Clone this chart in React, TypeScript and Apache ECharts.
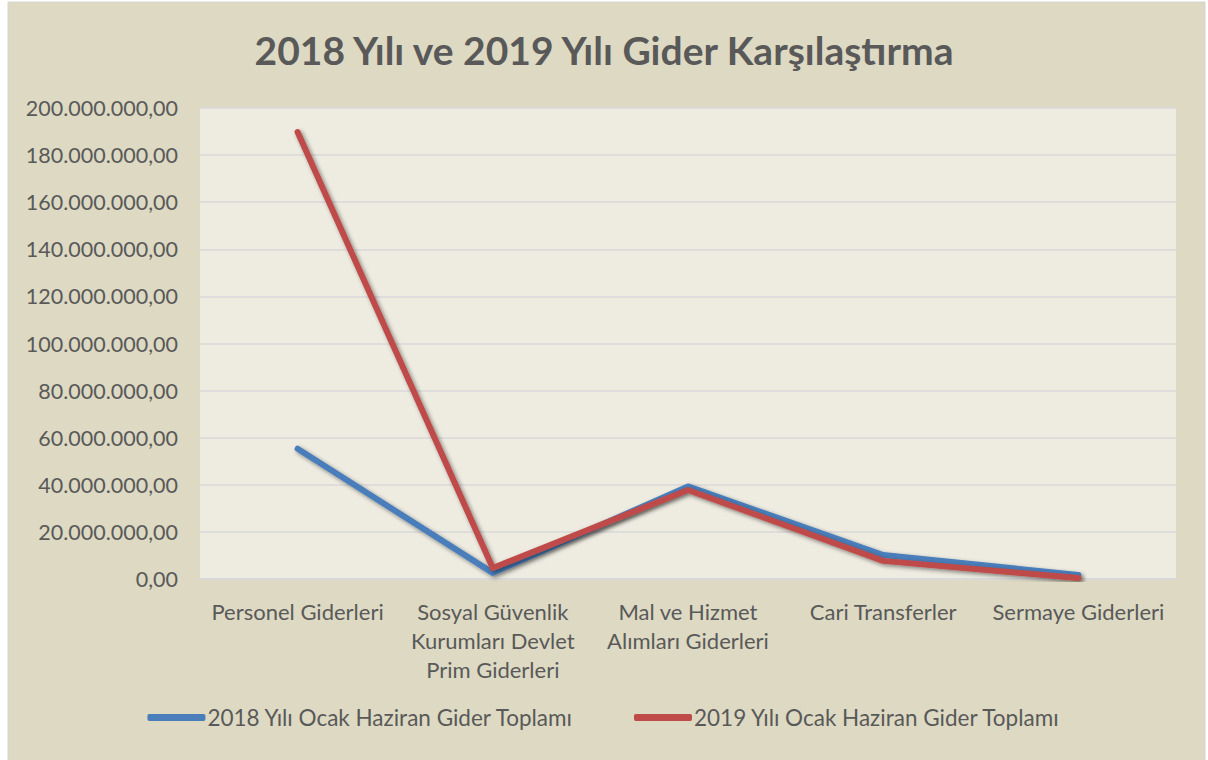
import React, { useEffect, useRef } from "react";
import * as echarts from "echarts";

const categories = [
  "Personel Giderleri",
  "Sosyal Güvenlik\nKurumları Devlet\nPrim Giderleri",
  "Mal ve Hizmet\nAlımları Giderleri",
  "Cari Transferler",
  "Sermaye Giderleri",
];
const seriesNames = [
  "2018 Yılı Ocak Haziran Gider Toplamı",
  "2019 Yılı Ocak Haziran Gider Toplamı",
];
const values2018 = [55300000, 2600000, 39300000, 10200000, 1700000];
const values2019 = [189800000, 4700000, 37800000, 7700000, 400000];
const title = "2018 Yılı ve 2019 Yılı Gider Karşılaştırma";

const FONT = "Lato, 'Open Sans', sans-serif";
const GREY = "#595959";

function trFormat(v: number): string {
  const s = Math.round(v).toString().replace(/\B(?=(\d{3})+(?!\d))/g, ".");
  return s + ",00";
}

export default function App() {
  const ref = useRef<HTMLDivElement>(null);
  useEffect(() => {
    if (!ref.current) return;
    const chart = echarts.init(ref.current, undefined, { renderer: "svg" });
    const shadow = {
      shadowColor: "rgba(0,0,0,0.45)",
      shadowBlur: 4,
      shadowOffsetX: 2,
      shadowOffsetY: 2,
    };
    chart.setOption({
      animation: false,
      backgroundColor: "#ffffff",
      graphic: [
        {
          type: "rect",
          z: -10,
          silent: true,
          shape: { x: 8, y: 2, width: 1197, height: 760 },
          style: { fill: "#DDD9C3", stroke: "#D4D4D4", lineWidth: 1 },
        },
      ],
      title: {
        text: title,
        left: "center",
        top: 25,
        textStyle: {
          fontFamily: FONT,
          fontSize: 39,
          fontWeight: "bold",
          color: GREY,
        },
      },
      grid: {
        left: 200,
        right: 32,
        top: 108,
        bottom: 181,
        show: true,
        backgroundColor: "#EEECE1",
        borderWidth: 0,
      },
      legend: {
        bottom: 26,
        left: "center",
        itemWidth: 58,
        itemHeight: 7,
        itemGap: 60,
        icon: "roundRect",
        textStyle: { fontFamily: FONT, fontSize: 22.5, color: GREY, padding: [0, 0, 0, -3] },
        data: seriesNames,
      },
      xAxis: {
        type: "category",
        data: categories,
        boundaryGap: true,
        axisLine: { show: true, lineStyle: { color: "#D9D9D9", width: 2 } },
        axisTick: { show: false },
        axisLabel: {
          fontFamily: FONT,
          fontSize: 22,
          color: GREY,
          lineHeight: 29,
          margin: 18,
          interval: 0,
        },
      },
      yAxis: {
        type: "value",
        min: 0,
        max: 200000000,
        interval: 20000000,
        axisLine: { show: false },
        axisTick: { show: false },
        splitLine: { lineStyle: { color: "#D9D9D9", width: 1.5 } },
        axisLabel: {
          fontFamily: FONT,
          fontSize: 21.5,
          color: GREY,
          margin: 22,
          formatter: (v: number) => trFormat(v),
        },
      },
      series: [
        {
          name: seriesNames[0],
          type: "line",
          data: values2018,
          symbol: "none",
          itemStyle: { color: "#4A7EBB" },
          lineStyle: { color: "#4A7EBB", width: 6, cap: "round", join: "round", ...shadow },
        },
        {
          name: seriesNames[1],
          type: "line",
          data: values2019,
          symbol: "none",
          itemStyle: { color: "#BE4B48" },
          lineStyle: { color: "#BE4B48", width: 6, cap: "round", join: "round", ...shadow },
        },
      ],
    });
    return () => chart.dispose();
  }, []);
  return (
    <div
      ref={ref}
      style={{ position: "absolute", left: 0, top: 0, width: 1208, height: 760 }}
    />
  );
}
